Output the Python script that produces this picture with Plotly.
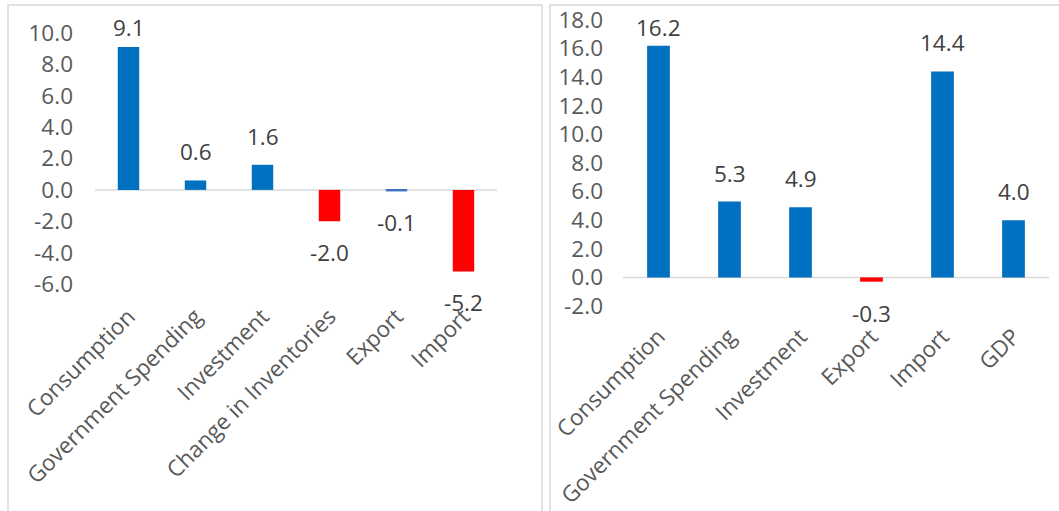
import plotly.graph_objects as go

W, H = 1059, 511

# Left chart data
left_categories = ["Consumption", "Government Spending", "Investment",
                   "Change in Inventories", "Export", "Import"]
left_values = [9.1, 0.6, 1.6, -2.0, -0.1, -5.2]
left_colors = ["#0070C0", "#0070C0", "#0070C0", "#FF0000", "#4472C4", "#FF0000"]
left_ticks = [10, 8, 6, 4, 2, 0, -2, -4, -6]

# Right chart data
right_categories = ["Consumption", "Government Spending", "Investment",
                    "Export", "Import", "GDP"]
right_values = [16.2, 5.3, 4.9, -0.3, 14.4, 4.0]
right_colors = ["#0070C0", "#0070C0", "#0070C0", "#FF0000", "#0070C0", "#0070C0"]
right_ticks = [18, 16, 14, 12, 10, 8, 6, 4, 2, 0, -2]

FONT = "Open Sans"
FS = 22.5
LABEL_COLOR = "#404040"
TICK_COLOR = "#595959"
GRID = "#D9D9D9"

# plot-area layout (pixels from top)
LEFT_TOP, LEFT_BOTTOM = 33, 284
RIGHT_TOP, RIGHT_BOTTOM = 20, 306
LEFT_RANGE = [-6, 10]
RIGHT_RANGE = [-2, 18]
LABEL_GAP = 11
LABEL_MIN_TOP = 45  # labels are kept inside the chart area, like the original

fig = go.Figure()

fig.add_trace(go.Bar(x=left_categories, y=left_values, marker_color=left_colors,
                     marker_line_width=0, xaxis="x", yaxis="y", showlegend=False,
                     hoverinfo="skip"))
fig.add_trace(go.Bar(x=right_categories, y=right_values, marker_color=right_colors,
                     marker_line_width=0, xaxis="x2", yaxis="y2", showlegend=False,
                     hoverinfo="skip"))

annotations = []
for cats, vals, xa, ya, top, bottom, rng in [
        (left_categories, left_values, "x", "y", LEFT_TOP, LEFT_BOTTOM, LEFT_RANGE),
        (right_categories, right_values, "x2", "y2", RIGHT_TOP, RIGHT_BOTTOM, RIGHT_RANGE)]:
    for c, v in zip(cats, vals):
        pos = v >= 0
        if pos:
            bar_top_px = top + (rng[1] - v) / (rng[1] - rng[0]) * (bottom - top)
            shift = min(LABEL_GAP, max(0, bar_top_px - LABEL_MIN_TOP))
        else:
            shift = -14
        annotations.append(dict(
            x=c, y=v, xref=xa, yref=ya, text=f"{v:.1f}", showarrow=False,
            yanchor="bottom" if pos else "top",
            yshift=shift,
            font=dict(family=FONT, size=FS, color=LABEL_COLOR),
        ))

axis_common = dict(
    showgrid=False, ticks="", showline=False, automargin=False,
    tickfont=dict(family=FONT, size=FS, color=TICK_COLOR),
    zeroline=False, fixedrange=True,
)

fig.update_layout(
    template="none",
    width=W, height=H,
    margin=dict(l=0, r=0, t=0, b=0, autoexpand=False),
    paper_bgcolor="white", plot_bgcolor="white",
    bargap=0.68,
    xaxis=dict(domain=[95 / W, 497 / W], anchor="y", type="category",
               tickangle=-45, ticklabelstandoff=14, **axis_common),
    yaxis=dict(domain=[(H - LEFT_BOTTOM) / H, (H - LEFT_TOP) / H], anchor="x",
               range=LEFT_RANGE, tickvals=left_ticks, ticklabelstandoff=21,
               ticktext=[f"{t:.1f}" for t in left_ticks], **axis_common),
    xaxis2=dict(domain=[623 / W, 1049 / W], anchor="y2", type="category",
                tickangle=-45, ticklabelstandoff=12, **axis_common),
    yaxis2=dict(domain=[(H - RIGHT_BOTTOM) / H, (H - RIGHT_TOP) / H], anchor="x2",
                range=RIGHT_RANGE, tickvals=right_ticks, ticklabelstandoff=19,
                ticktext=[f"{t:.1f}" for t in right_ticks], **axis_common),
    annotations=annotations,
    shapes=[
        # panel borders
        dict(type="rect", xref="paper", yref="paper", x0=8 / W, x1=542 / W,
             y0=-0.05, y1=(H - 5) / H, line=dict(color=GRID, width=1.5)),
        dict(type="rect", xref="paper", yref="paper", x0=550 / W, x1=1.05,
             y0=-0.05, y1=(H - 5) / H, line=dict(color=GRID, width=1.5)),
        # zero lines
        dict(type="line", xref="x domain", yref="y", x0=0, x1=1, y0=0, y1=0,
             line=dict(color=GRID, width=1.5), layer="below"),
        dict(type="line", xref="x2 domain", yref="y2", x0=0, x1=1, y0=0, y1=0,
             line=dict(color=GRID, width=1.5), layer="below"),
    ],
)

fig.write_html("out.html")
